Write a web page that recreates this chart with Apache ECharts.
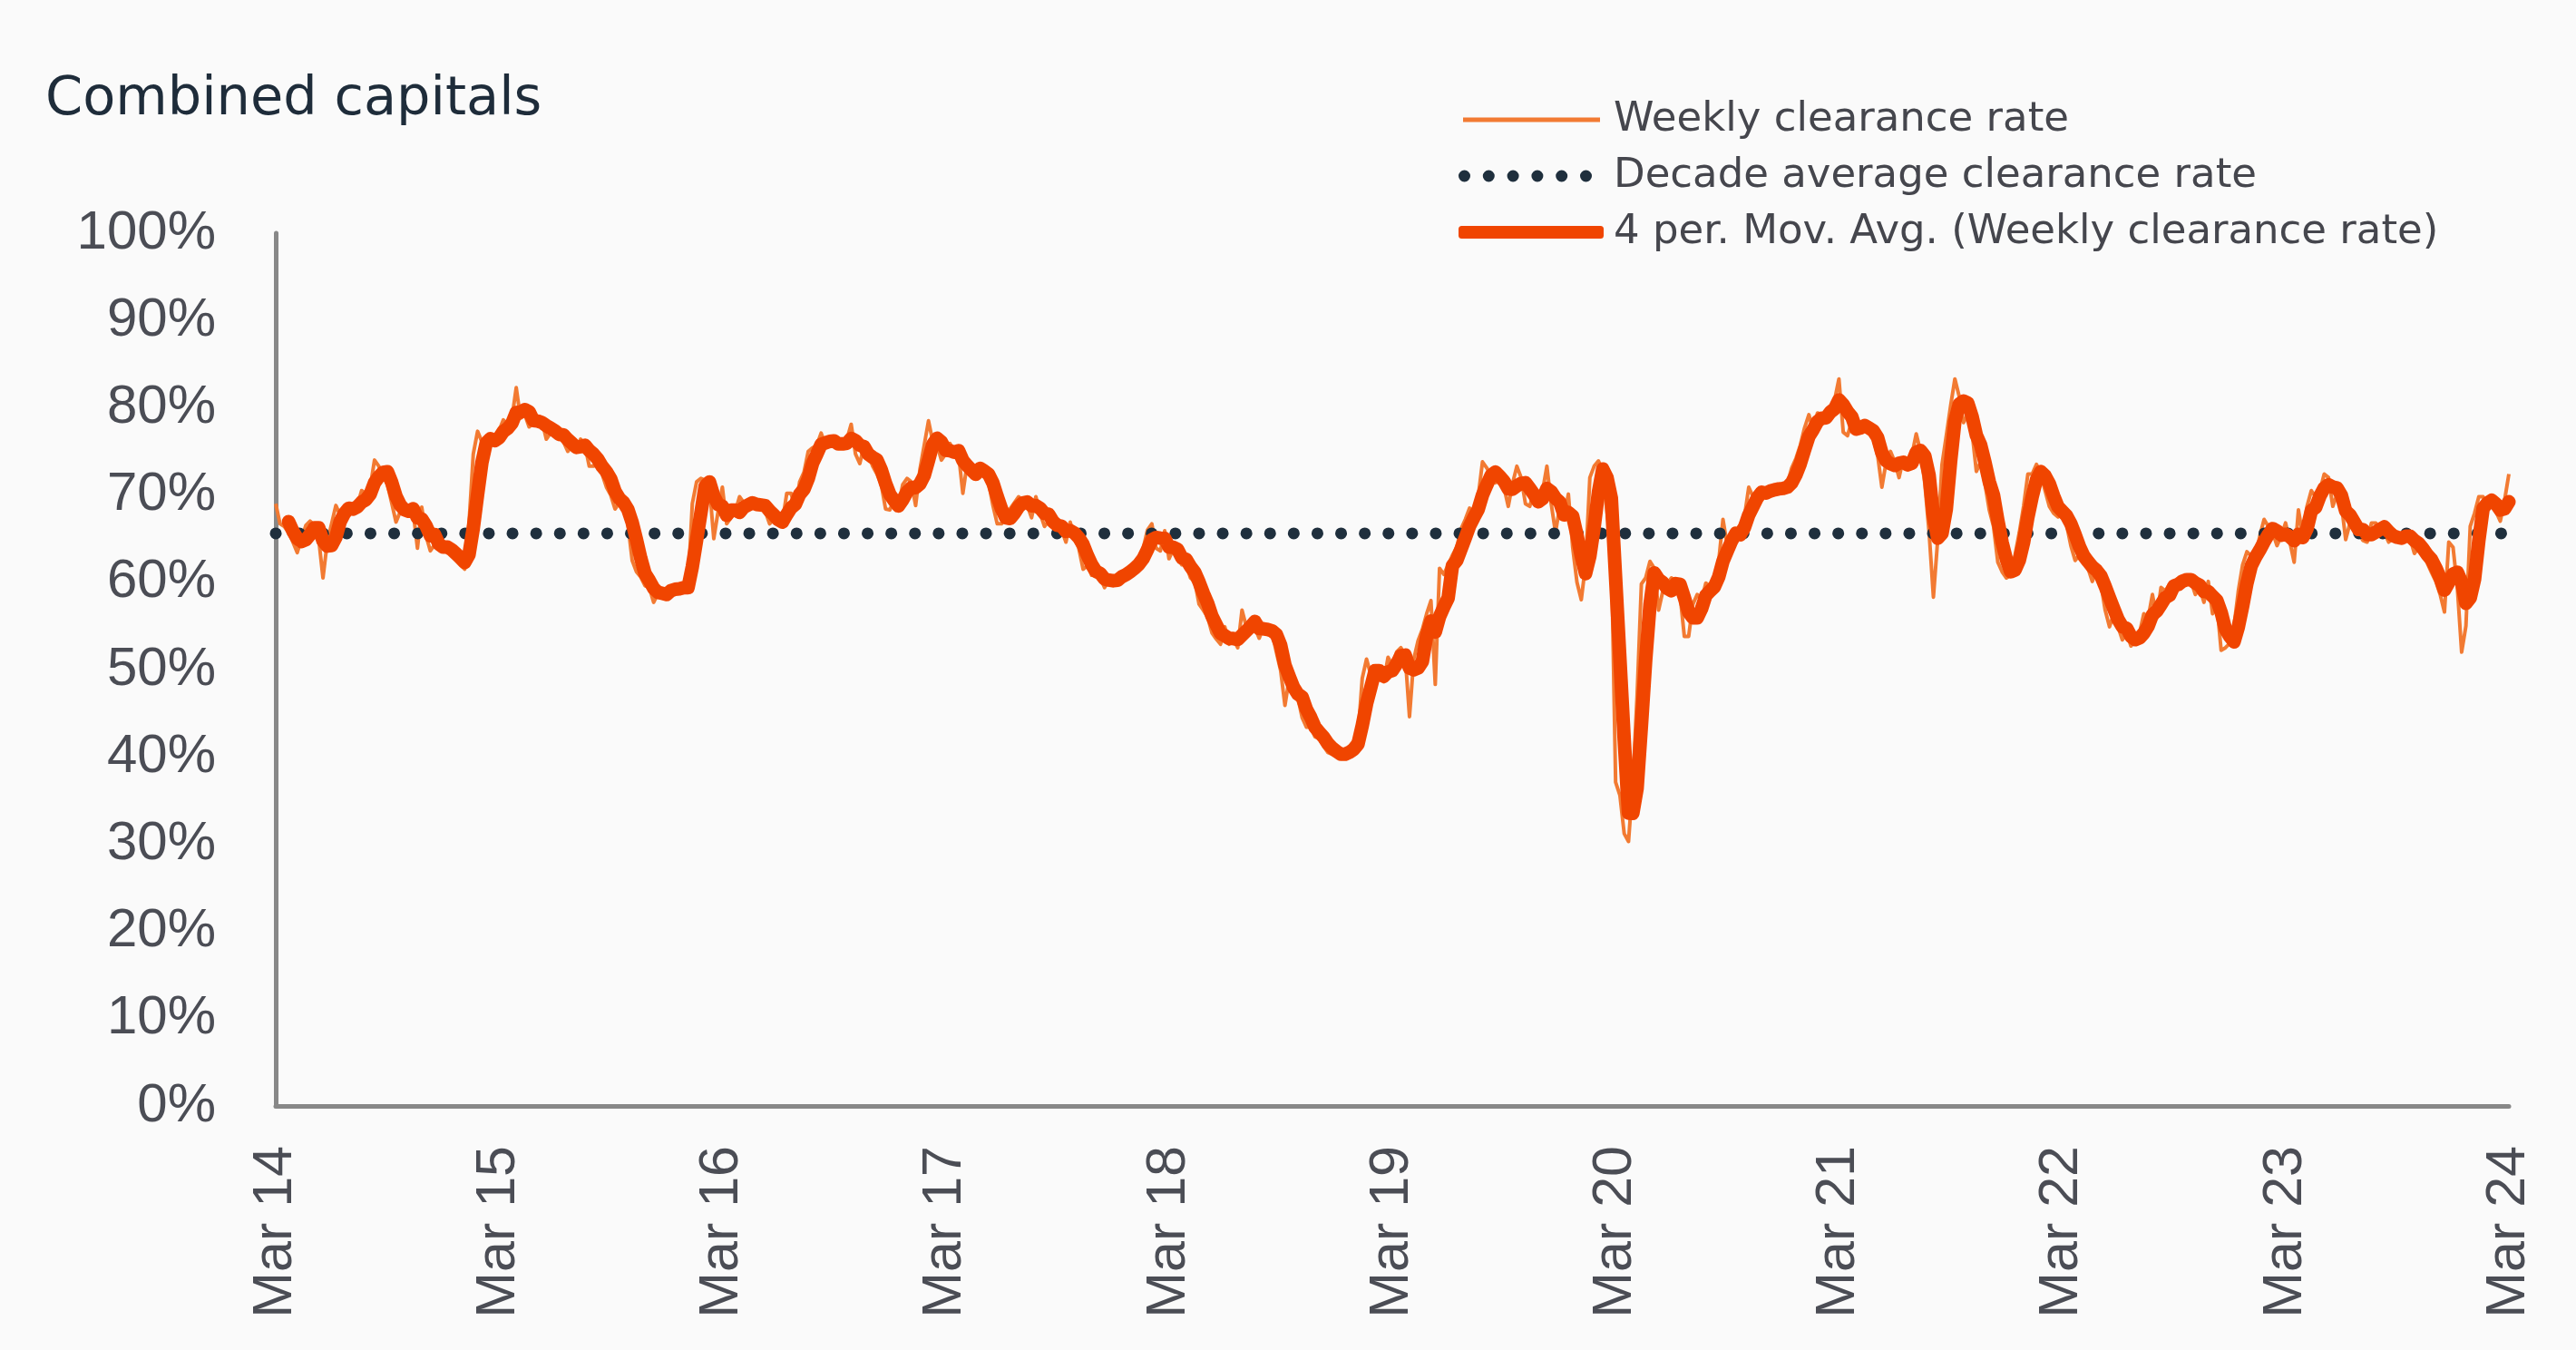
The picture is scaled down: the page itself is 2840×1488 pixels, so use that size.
<!DOCTYPE html>
<html>
<head>
<meta charset="utf-8">
<script src="https://cdn.jsdelivr.net/npm/echarts@6/dist/echarts.min.js"></script>
<style>
html,body{margin:0;padding:0;background:#fafafa;}
#chart{width:2840px;height:1488px;}
</style>
</head>
<body>
<div id="chart"></div>
<script>
// ---- data ----
const tickLabels = ['Mar 14','Mar 15','Mar 16','Mar 17','Mar 18','Mar 19','Mar 20','Mar 21','Mar 22','Mar 23','Mar 24'];
const weeksPerTick = 52;
const startDate = '2014-03-02';
const decadeAverage = 65.6;

// weekly clearance rate (%), Mar 2014 onwards
const weekly2014_16 = [
69.0,66.7,66.4,65.7,64.6,63.4,65.0,66.5,67.0,66.5,
65.0,60.5,64.6,66.7,68.8,67.7,68.4,69.0,68.4,68.8,
70.5,70.2,70.9,74.0,73.3,72.2,71.2,69.1,66.9,68.1,
69.1,68.4,68.1,63.9,68.6,65.3,63.6,64.3,64.3,63.9,
63.6,63.1,62.5,62.0,61.5,66.7,74.7,77.3,76.1,75.7,
76.7,76.4,77.4,78.6,78.1,78.8,82.3,78.8,79.2,77.8,
78.3,78.6,78.5,76.4,77.1,77.4,76.9,76.1,75.0,75.7,
75.0,76.4,75.7,73.3,73.3,74.1,72.4,70.9,70.0,68.4,
69.1,69.1,66.7,62.5,61.2,60.6,59.6,59.4,57.7,58.7,
59.1,58.9,59.4,59.4,59.3,59.4,59.4,69.0,71.5,71.9,
71.7,70.9,65.0,68.1
];
const weekly2016_18 = [
70.9,66.7,67.4,68.1,69.8,69.1,68.4,69.1,69.1,68.8,
68.1,66.7,67.2,66.7,67.0,70.2,70.2,68.4,71.5,72.6,
75.0,75.4,75.7,77.1,75.7,76.1,75.9,75.7,75.7,76.4,
78.1,74.7,73.6,75.7,74.7,73.3,72.4,71.2,68.4,68.3,
69.5,68.8,71.2,71.9,71.5,68.8,72.9,75.7,78.5,76.1,
75.7,74.0,74.7,75.9,75.0,74.7,70.2,73.6,72.9,72.8,
72.9,72.4,71.4,68.8,66.7,66.7,67.4,68.4,69.1,69.8,
69.1,68.8,67.4,69.8,67.9,66.4,67.0,66.5,66.2,66.0,
64.6,66.9,65.0,63.9,61.5,61.9,60.8,60.8,60.5,59.4,
60.3,60.5,60.7,61.0,61.3,61.9,62.2,62.9,63.9,66.0,
66.7,63.9,63.6
];
const weekly2018_20 = [
65.9,62.7,63.8,62.7,62.0,62.0,60.5,60.1,57.5,56.8,
56.0,54.2,53.5,52.9,54.9,52.9,53.5,52.5,56.8,54.9,
55.5,54.8,53.6,54.8,55.1,54.2,52.0,49.9,45.9,49.0,
47.1,46.8,44.5,43.4,43.4,42.3,42.1,41.2,40.5,40.3,
40.5,39.9,40.5,41.2,41.8,42.3,49.0,51.2,49.4,49.9,
49.0,48.6,51.4,50.5,52.0,52.5,51.6,44.6,51.2,53.3,
54.6,56.4,57.9,48.3,61.6,60.9,62.0,63.1,64.0,66.1,
67.2,68.5,67.9,69.8,73.8,73.1,72.2,71.4,71.8,70.9,
68.7,71.3,73.3,72.0,69.0,68.7,70.5,68.7,70.5,73.3,
69.0,65.7,68.7,67.5,70.1,64.0,60.0,58.0,62.0,72.0,
73.3,73.9,72.7,68.0
];
const weekly2020_22 = [
64.0,37.1,35.6,31.2,30.3,37.0,47.0,59.8,60.5,62.4,
61.6,56.8,59.0,59.8,60.5,60.1,58.6,53.8,53.8,57.5,
58.6,57.9,59.9,59.6,60.5,62.4,67.2,64.2,65.1,65.9,
66.6,67.5,70.9,69.8,70.5,70.1,70.5,70.7,71.1,70.5,
70.7,71.3,73.1,74.2,75.7,77.7,79.2,77.4,79.4,79.2,
79.4,80.0,80.9,83.3,77.2,76.8,78.5,77.7,77.7,77.9,
77.4,76.4,74.6,70.9,73.8,75.0,73.8,72.0,74.2,73.8,
74.6,77.0,75.0,71.3,65.7,58.3,64.9,73.5,76.8,80.2,
83.3,81.3,78.3,79.2,77.2,72.7,73.8,71.3,68.3,66.4,
62.3,61.2,60.5,60.8,63.1,65.7,68.7,72.4,72.4,73.5,
72.4,70.5,68.7
];
const weekly2022_24 = [
67.9,67.5,68.5,66.6,64.2,62.5,63.1,62.3,61.6,60.1,
61.4,59.8,56.8,54.9,56.4,54.9,53.4,54.2,52.7,53.4,
54.2,56.4,55.9,58.6,55.9,59.4,59.0,59.8,60.1,60.1,
60.5,60.5,60.1,58.6,59.4,57.7,60.1,56.4,57.5,52.2,
52.5,53.0,55.0,59.0,62.0,63.5,63.0,63.0,65.3,67.2,
66.4,65.7,64.2,65.3,66.8,64.6,62.3,68.3,65.3,68.7,
70.5,69.8,70.5,72.4,72.0,68.7,70.1,69.0,64.9,66.8,
66.8,65.7,64.8,64.6,66.8,66.8,66.1,65.7,64.6,65.0,
65.3,65.3,65.5,65.0,63.3,64.0,63.1,62.2,61.1,60.1,
58.6,56.6,64.6,64.0,59.4,52.0,55.0,66.4,67.9,69.8,
69.8,68.8,69.2,68.1,67.0,69.4,72.4
];

const weekly = [].concat(weekly2014_16, weekly2016_18, weekly2018_20, weekly2020_22, weekly2022_24);

// weekly dates as categories
const categories = [];
{
  const d0 = new Date(startDate + 'T00:00:00Z');
  for (let i = 0; i < weekly.length; i++) {
    const d = new Date(d0.getTime() + i * 7 * 86400000);
    categories.push(d.toISOString().slice(0, 10));
  }
}

// 4 period moving average of the weekly series (trendline, as in the original)
const movAvg = weekly.map((v, i) => i < 3 ? null :
  +((weekly[i] + weekly[i-1] + weekly[i-2] + weekly[i-3]) / 4).toFixed(2));

const decadeLine = [[0, decadeAverage], [weekly.length - 1, decadeAverage]];

// ---- chart ----
const names = ['Weekly clearance rate', 'Decade average clearance rate', '4 per. Mov. Avg. (Weekly clearance rate)'];
const colWeekly = '#F27A32', colAvg = '#1F2F3D', colMA = '#F04500';
const labelColor = '#4b4d55';
const legendText = { fontFamily: 'DejaVu Sans', fontSize: 45, color: '#45464d', lineHeight: 50 };

// six round dots for the dotted legend icon
function dotsPath(n, r, step) {
  let p = '';
  for (let k = 0; k < n; k++) {
    const cx = r + k * step;
    p += 'M' + (cx - r) + ',' + r + 'a' + r + ',' + r + ' 0 1,0 ' + (2 * r) + ',0a' + r + ',' + r + ' 0 1,0 ' + (-2 * r) + ',0Z';
  }
  return 'path://' + p;
}

const chart = echarts.init(document.getElementById('chart'));
chart.setOption({
  animation: false,
  backgroundColor: '#fafafa',
  title: {
    text: 'Combined capitals',
    left: 50, top: 80, padding: 0,
    textStyle: { fontFamily: 'DejaVu Sans', fontSize: 59, fontWeight: 'normal', color: '#1e2c3a', lineHeight: 62 }
  },
  legend: [
    {
      data: [{ name: names[0], icon: 'rect' }],
      left: 1613, top: 107, padding: 0,
      itemWidth: 151, itemHeight: 5, symbolKeepAspect: false,
      itemStyle: { borderWidth: 0 },
      textStyle: Object.assign({ padding: [0, 0, 0, 10] }, legendText)
    },
    {
      data: [{ name: names[1], icon: dotsPath(6, 6.5, 26.8) }],
      left: 1608, top: 169, padding: 0,
      itemWidth: 147, itemHeight: 13, symbolKeepAspect: false,
      itemStyle: { borderWidth: 0 },
      textStyle: Object.assign({ padding: [0, 0, 0, 19] }, legendText)
    },
    {
      data: [{ name: names[2], icon: 'roundRect' }],
      left: 1608, top: 231, padding: 0,
      itemWidth: 160, itemHeight: 14, symbolKeepAspect: false,
      itemStyle: { borderWidth: 0 },
      textStyle: Object.assign({ padding: [0, 0, 0, 6] }, legendText)
    }
  ],
  grid: { left: 304, right: 74, top: 257, bottom: 269, containLabel: false },
  xAxis: {
    type: 'category',
    data: categories,
    boundaryGap: false,
    axisLine: { show: true, lineStyle: { color: '#888888', width: 5 } },
    axisTick: { show: false },
    splitLine: { show: false },
    axisLabel: {
      interval: (i) => i % weeksPerTick === 0,
      formatter: (v, i) => tickLabels[Math.round(i / weeksPerTick)],
      rotate: 90,
      margin: 44,
      fontFamily: 'Liberation Sans',
      fontSize: 61,
      color: labelColor
    }
  },
  yAxis: {
    type: 'value',
    min: 0, max: 100, interval: 10,
    axisLine: { show: true, lineStyle: { color: '#888888', width: 5 } },
    axisTick: { show: false },
    splitLine: { show: false },
    axisLabel: {
      formatter: '{value}%',
      margin: 66,
      fontFamily: 'Liberation Sans',
      fontSize: 60,
      color: labelColor
    }
  },
  series: [
    {
      name: names[0],
      type: 'line',
      data: weekly,
      symbol: 'none',
      z: 2,
      lineStyle: { color: colWeekly, width: 4, join: 'round' },
      itemStyle: { color: colWeekly }
    },
    {
      name: names[1],
      type: 'line',
      data: decadeLine,
      symbol: 'none',
      z: 3,
      lineStyle: { color: colAvg, width: 13, type: [0.1, 26], cap: 'round' },
      itemStyle: { color: colAvg }
    },
    {
      name: names[2],
      type: 'line',
      data: movAvg,
      symbol: 'none',
      z: 4,
      lineStyle: { color: colMA, width: 15, join: 'round', cap: 'round' },
      itemStyle: { color: colMA }
    }
  ]
});
</script>
</body>
</html>
